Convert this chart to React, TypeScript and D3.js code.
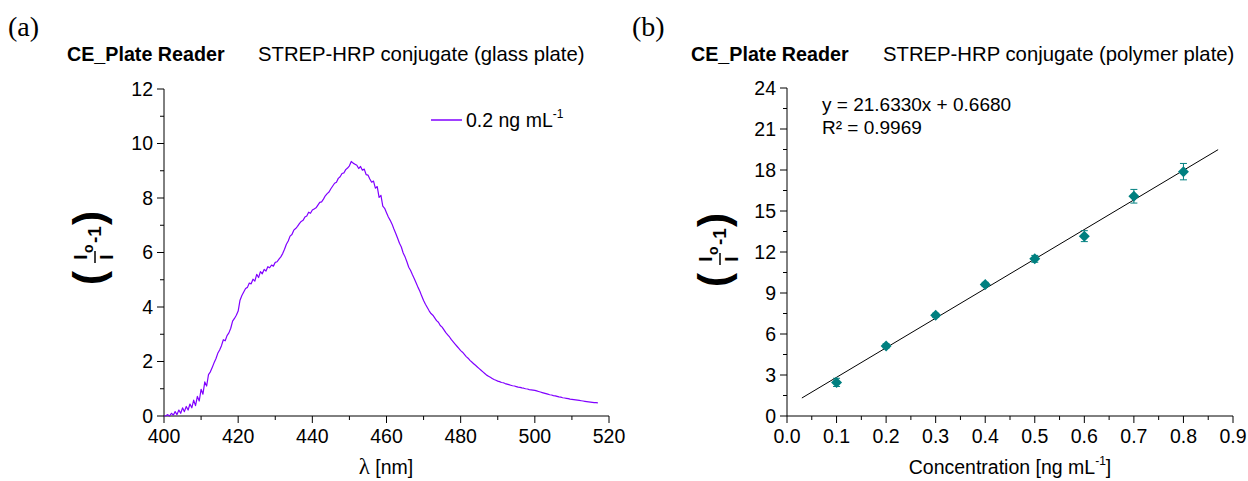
import React from 'react';
import * as d3 from 'd3';

const FONT = '"Liberation Sans", Arial, sans-serif';

// (a) emission spectrum, 0.5 nm steps from 400 nm
const spectrumStart = 400;
const spectrumStep = 0.5;
const spectrumValues = [
  0.00, 0.01, 0.05, 0.00, 0.10, 0.03, 0.16, 0.05, 0.22, 0.10,
  0.30, 0.16, 0.35, 0.22, 0.44, 0.30, 0.58, 0.38, 0.72, 0.55,
  0.98, 0.80, 1.25, 1.10, 1.52, 1.62, 1.78, 1.95, 2.10, 2.30,
  2.42, 2.58, 2.80, 2.76, 2.95, 3.05, 3.22, 3.48, 3.58, 3.70,
  3.85, 4.25, 4.42, 4.55, 4.68, 4.72, 4.88, 4.85, 5.02, 4.95,
  5.20, 5.08, 5.30, 5.22, 5.38, 5.32, 5.48, 5.44, 5.54, 5.50,
  5.64, 5.66, 5.76, 5.84, 5.96, 6.12, 6.30, 6.42, 6.60, 6.66,
  6.82, 6.88, 6.96, 7.06, 7.14, 7.18, 7.30, 7.34, 7.48, 7.44,
  7.56, 7.60, 7.64, 7.74, 7.84, 7.86, 7.96, 8.08, 8.16, 8.22,
  8.34, 8.44, 8.54, 8.58, 8.72, 8.78, 8.90, 8.92, 9.04, 9.10,
  9.18, 9.34, 9.28, 9.24, 9.20, 9.08, 9.16, 9.02, 9.06, 8.86,
  8.84, 8.70, 8.58, 8.62, 8.36, 8.42, 8.02, 8.10, 7.70, 7.62,
  7.46, 7.30, 7.18, 7.04, 6.86, 6.70, 6.52, 6.34, 6.20, 5.98,
  5.84, 5.66, 5.46, 5.34, 5.18, 5.04, 4.88, 4.72, 4.58, 4.40,
  4.24, 4.10, 3.98, 3.86, 3.76, 3.70, 3.60, 3.50, 3.44, 3.32,
  3.26, 3.16, 3.06, 2.98, 2.90, 2.80, 2.72, 2.64, 2.56, 2.48,
  2.40, 2.34, 2.26, 2.18, 2.12, 2.04, 1.98, 1.92, 1.86, 1.80,
  1.74, 1.68, 1.62, 1.56, 1.50, 1.46, 1.42, 1.38, 1.34, 1.31,
  1.28, 1.26, 1.23, 1.22, 1.19, 1.17, 1.15, 1.13, 1.11, 1.10,
  1.08, 1.06, 1.05, 1.03, 1.02, 1.00, 0.99, 0.97, 0.96, 0.95,
  0.94, 0.92, 0.90, 0.88, 0.86, 0.84, 0.82, 0.80, 0.78, 0.77,
  0.75, 0.74, 0.72, 0.70, 0.69, 0.67, 0.66, 0.65, 0.64, 0.62,
  0.61, 0.60, 0.59, 0.58, 0.57, 0.56, 0.55, 0.54, 0.53, 0.52,
  0.51, 0.50, 0.49, 0.49, 0.48,
];
const spectrumXTicks = [400, 420, 440, 460, 480, 500, 520];
const spectrumYTicks = [0, 2, 4, 6, 8, 10, 12];

// (b) calibration
const concentrations = [0.1, 0.2, 0.3, 0.4, 0.5, 0.6, 0.7, 0.8];
const responses = [2.46, 5.13, 7.37, 9.63, 11.5, 13.16, 16.08, 17.88];
const responseErrors = [0.3, 0.15, 0.15, 0.15, 0.25, 0.4, 0.5, 0.6];
const fitSlope = 21.633;
const fitIntercept = 0.668;
const fitRange = [0.03, 0.87];
const calXTicks = [0, 0.1, 0.2, 0.3, 0.4, 0.5, 0.6, 0.7, 0.8, 0.9];
const calYTicks = [0, 3, 6, 9, 12, 15, 18, 21, 24];

const VIOLET = '#8000ff';
const TEAL = '#008080';

const mids = (t: number[]) => t.slice(1).map((v, i) => (v + t[i]) / 2);

function Axes({ sx, sy, xTicks, yTicks, xFmt, yFmt }: any) {
  const [x0, x1] = sx.range();
  const [y0, y1] = sy.range();
  return (
    <g stroke="#000" strokeWidth={1} fontFamily={FONT} fontSize={19.5}>
      <line x1={x0} x2={x1} y1={y0} y2={y0} />
      <line x1={x0} x2={x0} y1={y0} y2={y1} />
      {xTicks.map((t: number) => (
        <g key={'x' + t}>
          <line x1={sx(t)} x2={sx(t)} y1={y0} y2={y0 + 7} />
          <text x={sx(t)} y={y0 + 27} textAnchor="middle" stroke="none" fill="#000">{xFmt(t)}</text>
        </g>
      ))}
      {mids(xTicks).map((t: number) => (
        <line key={'xm' + t} x1={sx(t)} x2={sx(t)} y1={y0} y2={y0 + 4} />
      ))}
      {yTicks.map((t: number) => (
        <g key={'y' + t}>
          <line x1={x0 - 7} x2={x0} y1={sy(t)} y2={sy(t)} />
          <text x={x0 - 11} y={sy(t)} dy="0.35em" textAnchor="end" stroke="none" fill="#000">{yFmt(t)}</text>
        </g>
      ))}
      {mids(yTicks).map((t: number) => (
        <line key={'ym' + t} x1={x0 - 4} x2={x0} y1={sy(t)} y2={sy(t)} />
      ))}
    </g>
  );
}

function FracLabel({ x, y }: { x: number; y: number }) {
  return (
    <g transform={`translate(${x},${y}) rotate(-90)`} fontFamily={FONT} fontWeight="bold" fill="#000">
      <text x={-37} y={11} fontSize={42}>(</text>
      <text x={-9} y={-5} fontSize={19} textAnchor="middle">I</text>
      <text x={-5} y={1} fontSize={14}>o</text>
      <line x1={-15} x2={-3} y1={3} y2={3} stroke="#000" strokeWidth={1.5} />
      <text x={-9} y={21} fontSize={19} textAnchor="middle">I</text>
      <text x={5} y={9} fontSize={19}>-1</text>
      <text x={23} y={11} fontSize={42}>)</text>
    </g>
  );
}

function Titles({ x, label, sub, tag }: { x: number; label: string; sub: number; tag: string }) {
  return (
    <g>
      <text x={x - 59} y={36} fontFamily='"Liberation Serif", "Times New Roman", serif' fontSize={28}>{tag}</text>
      <text x={x} y={61} fontFamily={FONT} fontSize={19.7} fontWeight="bold">CE_Plate Reader</text>
      <text x={sub} y={61} fontFamily={FONT} fontSize={20.3}>{label}</text>
    </g>
  );
}

function SpectrumPanel() {
  const sx = d3.scaleLinear().domain([400, 520]).range([164, 609]);
  const sy = d3.scaleLinear().domain([0, 12]).range([416, 89]);
  const line = d3
    .line<number>()
    .x((_, i) => sx(spectrumStart + i * spectrumStep))
    .y((d) => sy(d));
  return (
    <g>
      <Titles x={67} sub={258} tag="(a)" label="STREP-HRP conjugate (glass plate)" />
      <Axes sx={sx} sy={sy} xTicks={spectrumXTicks} yTicks={spectrumYTicks} xFmt={d3.format('d')} yFmt={d3.format('d')} />
      <path d={line(spectrumValues) || ''} fill="none" stroke={VIOLET} strokeWidth={1.2} strokeLinejoin="round" />
      <line x1={431} x2={462} y1={120} y2={120} stroke={VIOLET} strokeWidth={1.5} />
      <text x={466} y={127} fontFamily={FONT} fontSize={19.5}>
        0.2 ng mL<tspan fontSize={12} dy={-9}>-1</tspan>
      </text>
      <FracLabel x={92} y={248} />
      <text x={386} y={474} fontFamily={FONT} fontSize={19.5} textAnchor="middle">
        <tspan fontFamily='"Liberation Serif", "Times New Roman", serif' fontSize={23}>λ</tspan> [nm]
      </text>
    </g>
  );
}

function CalibrationPanel() {
  const sx = d3.scaleLinear().domain([0, 0.9]).range([787, 1233]);
  const sy = d3.scaleLinear().domain([0, 24]).range([416, 88]);
  const pts = concentrations.map((c, i) => ({ c, v: responses[i], e: responseErrors[i] }));
  const r = 5.5;
  return (
    <g>
      <Titles x={691} sub={883} tag="(b)" label="STREP-HRP conjugate (polymer plate)" />
      <Axes sx={sx} sy={sy} xTicks={calXTicks} yTicks={calYTicks} xFmt={d3.format('.1f')} yFmt={d3.format('d')} />
      <line
        x1={sx(fitRange[0])}
        y1={sy(fitSlope * fitRange[0] + fitIntercept)}
        x2={sx(fitRange[1])}
        y2={sy(fitSlope * fitRange[1] + fitIntercept)}
        stroke="#000"
        strokeWidth={1}
      />
      {pts.map((p) => {
        const cx = sx(p.c);
        const cy = sy(p.v);
        return (
          <g key={p.c} stroke={TEAL} fill={TEAL}>
            <line x1={cx} x2={cx} y1={sy(p.v + p.e)} y2={sy(p.v - p.e)} strokeWidth={1} />
            <line x1={cx - 3.5} x2={cx + 3.5} y1={sy(p.v + p.e)} y2={sy(p.v + p.e)} strokeWidth={1} />
            <line x1={cx - 3.5} x2={cx + 3.5} y1={sy(p.v - p.e)} y2={sy(p.v - p.e)} strokeWidth={1} />
            <path d={`M${cx},${cy - r}L${cx + r},${cy}L${cx},${cy + r}L${cx - r},${cy}Z`} stroke="none" />
          </g>
        );
      })}
      <text x={822} y={111} fontFamily={FONT} fontSize={19}>y = 21.6330x + 0.6680</text>
      <text x={822} y={134} fontFamily={FONT} fontSize={19}>R² = 0.9969</text>
      <FracLabel x={717} y={250} />
      <text x={1010} y={474} fontFamily={FONT} fontSize={19.5} textAnchor="middle">
        Concentration [ng mL<tspan fontSize={12} dy={-9}>-1</tspan><tspan dy={9}>]</tspan>
      </text>
    </g>
  );
}

export default function App() {
  return (
    <svg width={1248} height={481} style={{ position: 'absolute', left: 0, top: 0, background: '#fff' }}>
      <SpectrumPanel />
      <CalibrationPanel />
    </svg>
  );
}
